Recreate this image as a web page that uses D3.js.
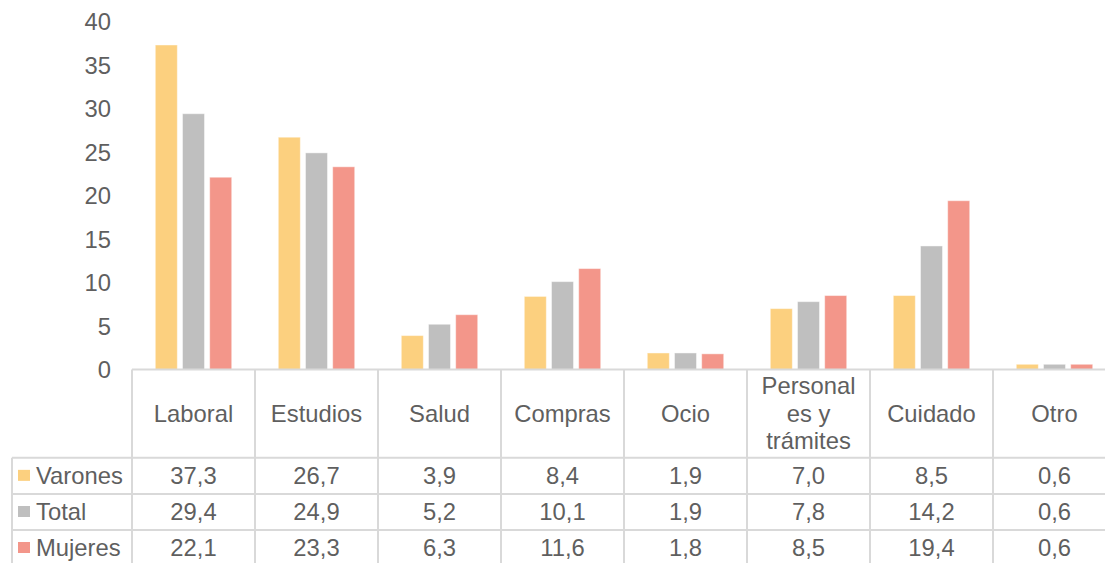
<!DOCTYPE html>
<html><head><meta charset="utf-8">
<script src="https://cdn.jsdelivr.net/npm/d3@7"></script>
<style>html,body{margin:0;padding:0;background:#fff;overflow:hidden}</style>
</head><body>
<svg id="c" width="1105" height="563"></svg>
<script>
const categories = ["Laboral","Estudios","Salud","Compras","Ocio","Personales y trámites","Cuidado","Otro"];
const categoryLines = [["Laboral"],["Estudios"],["Salud"],["Compras"],["Ocio"],["Personal","es y","trámites"],["Cuidado"],["Otro"]];
const seriesNames = ["Varones","Total","Mujeres"];
const varones = [37.3,26.7,3.9,8.4,1.9,7.0,8.5,0.6];
const total   = [29.4,24.9,5.2,10.1,1.9,7.8,14.2,0.6];
const mujeres = [22.1,23.3,6.3,11.6,1.8,8.5,19.4,0.6];
const yTicks = [0,5,10,15,20,25,30,35,40];
const colors = ["#FCD07F","#BFBFBF","#F3968A"];

const seriesValues = [varones,total,mujeres];
const svg = d3.select("#c");
const font = "'Liberation Sans', Arial, sans-serif";
const fs = "23.8px";
const txt = "#5f5f5f";
const grid = "#D9D9D9";

const left = 132, colW = 123;
const x0 = d3.scaleBand().domain(categories).range([left, left + colW*categories.length]).padding(0);
const x1 = d3.scaleBand().domain(seriesNames).range([0, x0.bandwidth()]).paddingInner(0.19).paddingOuter(0.856);
const y = d3.scaleLinear().domain([0,40]).range([369.5, 21.5]);

// y tick labels
const yAxis = d3.axisLeft(y).tickValues(yTicks).tickSize(0).tickPadding(0).tickFormat(d3.format("d"));
const ya = svg.append("g").attr("transform","translate(111,0)").call(yAxis);
ya.select(".domain").remove();
ya.selectAll("text").attr("font-family",font).attr("font-size",fs).attr("fill",txt).attr("dy","0.35em");

// bars
const g = svg.append("g");
categories.forEach((c,i)=>{
  seriesNames.forEach((s,j)=>{
    const v = seriesValues[j][i];
    g.append("rect")
      .attr("x", x0(c)+x1(s)).attr("width", x1.bandwidth())
      .attr("y", y(v)).attr("height", y(0)-y(v))
      .attr("fill", colors[j])
      .attr("stroke","#ffffff").attr("stroke-opacity",0.45).attr("stroke-width",1);
  });
});

// table
const rowTop = [369.5, 457.7, 494, 530, 566];
const right = left + colW*categories.length;
const lines = svg.append("g").attr("stroke",grid).attr("stroke-width",2);
lines.append("line").attr("x1",left).attr("x2",right).attr("y1",rowTop[0]).attr("y2",rowTop[0]);
for (let r=1;r<rowTop.length;r++){
  lines.append("line").attr("x1",12).attr("x2",right).attr("y1",rowTop[r]).attr("y2",rowTop[r]);
}
categories.forEach(c=>{
  lines.append("line").attr("x1",x0(c)).attr("x2",x0(c)).attr("y1",rowTop[0]).attr("y2",rowTop[4]);
});
lines.append("line").attr("x1",right).attr("x2",right).attr("y1",rowTop[0]).attr("y2",rowTop[4]);
lines.append("line").attr("x1",12).attr("x2",12).attr("y1",rowTop[1]).attr("y2",rowTop[4]);

// category headers
const hdr = svg.append("g").attr("font-family",font).attr("font-size",fs).attr("fill",txt).attr("text-anchor","middle");
categories.forEach((c,i)=>{
  const ls = categoryLines[i];
  const cy = (rowTop[0]+rowTop[1])/2;
  const lh = 27.5;
  ls.forEach((l,k)=>{
    hdr.append("text").attr("x", x0(c)+x0.bandwidth()/2)
      .attr("y", cy + (k-(ls.length-1)/2)*lh).attr("dy","0.35em").text(l);
  });
});

// data rows
const fmt = v => d3.format(".1f")(v).replace(".",",");
seriesNames.forEach((s,j)=>{
  const cy = (rowTop[j+1]+rowTop[j+2])/2 - 0.5;
  categories.forEach((c,i)=>{
    hdr.append("text").attr("x", x0(c)+x0.bandwidth()/2).attr("y", cy).attr("dy","0.35em").text(fmt(seriesValues[j][i]));
  });
  svg.append("rect").attr("x",18).attr("y",cy-5.5).attr("width",12).attr("height",11).attr("fill",colors[j]);
  svg.append("text").attr("x",36).attr("y",cy).attr("dy","0.35em")
    .attr("font-family",font).attr("font-size",fs).attr("fill",txt).text(s);
});
</script>
</body></html>
